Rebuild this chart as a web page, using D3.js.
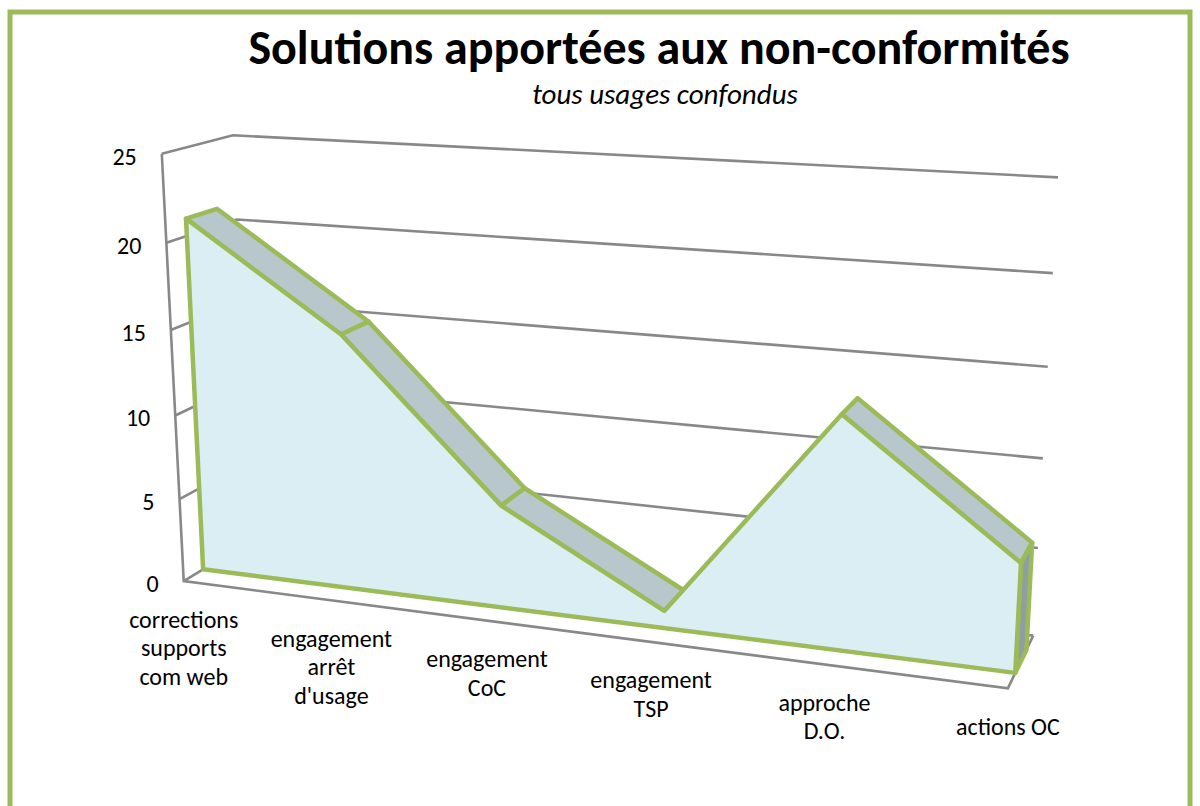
<!DOCTYPE html>
<html>
<head>
<meta charset="UTF-8">
<title>Solutions apportées aux non-conformités</title>
<script src="https://cdn.jsdelivr.net/npm/d3@7"></script>
<style>
    body { margin: 0; background: #fff; }
    text { font-family: Calibri, Carlito, Lato, sans-serif; fill: #000; }
</style>
</head>
<body>
<svg id="chart" width="1200" height="806"></svg>
<script>
    var categories = [
        ["corrections", "supports", "com web"],
        ["engagement", "arrêt", "d'usage"],
        ["engagement", "CoC"],
        ["engagement", "TSP"],
        ["approche", "D.O."],
        ["actions OC"]
    ];
    var values = [21, 15, 6, 1, 13, 6];
    var yTicks = [0, 5, 10, 15, 20, 25];

    var svg = d3.select("#chart");
    var green = "#9bbb59", gridColor = "#888888";

    // category / value / depth -> 0..1 inside the 3d box
    var xs = d3.scaleLinear().domain([0, categories.length - 1]).range([0, 1]);
    var ys = d3.scaleLinear().domain([0, 25]).range([0, 1]);
    var zFront = 0.28, zBack = 0.72;

    // where some box corners / gridline ends sit on screen: [u, v, w, px, py]
    var anchors = [
        [0, 1, 0, 161.7, 153.3], [0, 0.8, 0, 166.4, 243.3], [0, 0.6, 0, 170.9, 330],
        [0, 0.4, 0, 175.2, 415], [0, 0.2, 0, 179.6, 498.3], [0, 0, 0, 184, 581.7],
        [0, 1, 1, 233.3, 135], [0, 0.8, 1, 236, 220],
        [1, 1, 1, 1058, 179], [1, 0.8, 1, 1052.9, 272], [1, 0.6, 1, 1047.9, 365],
        [1, 0.4, 1, 1042.7, 460], [1, 0.2, 1, 1037.9, 548], [1, 0, 1, 1033.3, 635],
        [1, 0, 0, 1008.3, 688.3],
        [0.2, 0, 0, 331.7, 600.8], [0.4, 0, 0, 486.7, 620.8],
        [0.6, 0, 0, 651, 642.1], [0.8, 0, 0, 823.7, 664.4]
    ];

    // least squares fit of a perspective camera (3x4, last term = 1)
    function fitProjection(pts) {
        var n = 11, M = [], r = [], i, j, k;
        for (i = 0; i < n; i++) { M.push(new Array(n).fill(0)); r.push(0); }
        pts.forEach(function (p) {
            var u = p[0], v = p[1], w = p[2], X = p[3] / 1000, Y = p[4] / 1000;
            [[u, v, w, 1, 0, 0, 0, 0, -X * u, -X * v, -X * w, X],
             [0, 0, 0, 0, u, v, w, 1, -Y * u, -Y * v, -Y * w, Y]].forEach(function (a) {
                for (i = 0; i < n; i++) {
                    for (j = 0; j < n; j++) M[i][j] += a[i] * a[j];
                    r[i] += a[i] * a[n];
                }
            });
        });
        for (var c = 0; c < n; c++) {
            var piv = c;
            for (k = c + 1; k < n; k++) if (Math.abs(M[k][c]) > Math.abs(M[piv][c])) piv = k;
            var t = M[c]; M[c] = M[piv]; M[piv] = t;
            t = r[c]; r[c] = r[piv]; r[piv] = t;
            for (k = c + 1; k < n; k++) {
                var f = M[k][c] / M[c][c];
                for (j = c; j < n; j++) M[k][j] -= f * M[c][j];
                r[k] -= f * r[c];
            }
        }
        var p = new Array(n);
        for (i = n - 1; i >= 0; i--) {
            var s = r[i];
            for (j = i + 1; j < n; j++) s -= M[i][j] * p[j];
            p[i] = s / M[i][i];
        }
        return p;
    }
    var P = fitProjection(anchors);

    function proj(cat, val, z) {
        var u = xs(cat), v = ys(val), w = z;
        var d = P[8] * u + P[9] * v + P[10] * w + 1;
        return [1000 * (P[0] * u + P[1] * v + P[2] * w + P[3]) / d,
                1000 * (P[4] * u + P[5] * v + P[6] * w + P[7]) / d];
    }

    var line = d3.line();
    var last = categories.length - 1;

    // frame
    svg.append("rect")
        .attr("x", 10).attr("y", 12)
        .attr("width", 1180).attr("height", 820)
        .attr("fill", "none").attr("stroke", green).attr("stroke-width", 5);

    // title
    svg.append("text")
        .attr("x", 659).attr("y", 64)
        .attr("text-anchor", "middle")
        .style("font-size", "48px").style("font-weight", "bold")
        .text("Solutions apportées aux non-conformités");
    svg.append("text")
        .attr("x", 665).attr("y", 104)
        .attr("text-anchor", "middle")
        .style("font-size", "29px").style("font-style", "italic")
        .text("tous usages confondus");

    // walls: side wall + back wall gridlines
    var g = svg.append("g")
        .attr("fill", "none").attr("stroke", gridColor).attr("stroke-width", 2.6);
    yTicks.forEach(function (t) {
        g.append("path").attr("d", line([proj(0, t, 0), proj(0, t, 1), proj(last, t, 1)]));
    });
    g.append("path").attr("d", line([proj(0, 25, 0), proj(0, 0, 0), proj(last, 0, 0), proj(last, 0, 1)]));

    // value axis labels
    yTicks.forEach(function (t) {
        var p = proj(0, t, 0);
        svg.append("text")
            .attr("x", p[0] - 25).attr("y", p[1] + 11)
            .attr("text-anchor", "end")
            .style("font-size", "24px")
            .text(t);
    });

    // the area slab
    var front = values.map(function (v, i) { return proj(i, v, zFront); });
    var back = values.map(function (v, i) { return proj(i, v, zBack); });
    var slab = svg.append("g")
        .attr("stroke", green).attr("stroke-width", 4.5).attr("stroke-linejoin", "round");

    for (var i = 0; i < last; i++) {
        if (values[i + 1] <= values[i]) {
            slab.append("path")
                .attr("d", line([front[i], front[i + 1], back[i + 1], back[i]]) + "Z")
                .attr("fill", "#b8c7cc");
        }
    }
    slab.append("path")
        .attr("d", line([front[last], back[last], proj(last, 0, zBack), proj(last, 0, zFront)]) + "Z")
        .attr("fill", "#8f9ea3");
    slab.append("path")
        .attr("d", line(front.concat([proj(last, 0, zFront), proj(0, 0, zFront)])) + "Z")
        .attr("fill", "#dbeef4");

    // category labels
    categories.forEach(function (lines, i) {
        var p = proj(i, 0, 0);
        var txt = svg.append("text")
            .attr("text-anchor", "middle")
            .style("font-size", "24px");
        lines.forEach(function (s, k) {
            txt.append("tspan")
                .attr("x", p[0])
                .attr("y", p[1] + 38.5 + 8 + k * 28.5)
                .text(s);
        });
    });
</script>
</body>
</html>
